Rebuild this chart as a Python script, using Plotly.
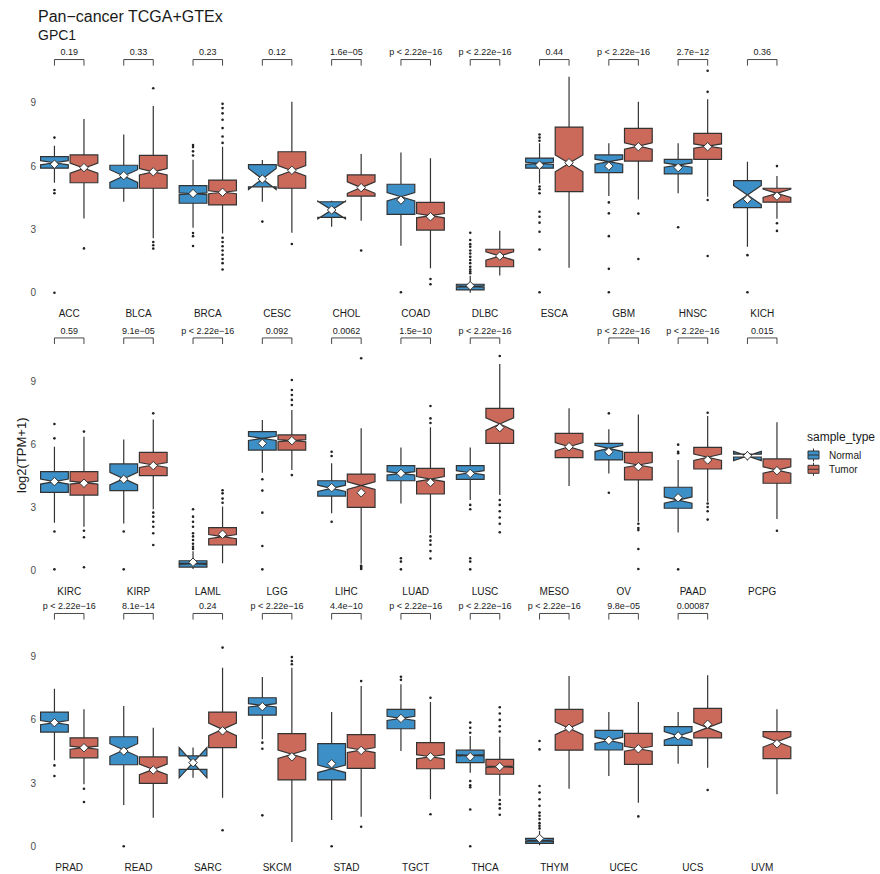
import plotly.graph_objects as go

# ---- data -------------------------------------------------------------
cancers = [
    "ACC", "BLCA", "BRCA", "CESC", "CHOL", "COAD", "DLBC", "ESCA", "GBM", "HNSC", "KICH",
    "KIRC", "KIRP", "LAML", "LGG", "LIHC", "LUAD", "LUSC", "MESO", "OV", "PAAD", "PCPG",
    "PRAD", "READ", "SARC", "SKCM", "STAD", "TGCT", "THCA", "THYM", "UCEC", "UCS", "UVM",
]

# Normal (GTEx + TCGA normal) box statistics, log2(TPM+1)
normal_q1 = [5.90, 4.95, 4.24, 5.02, 3.57, 3.71, 0.13, 5.90, 5.69, 5.63, 4.03,
             3.70, 3.78, 0.14, 5.71, 3.52, 4.25, 4.32, None, 5.24, 2.94, 5.38,
             5.42, 3.87, 3.65, 6.23, 3.15, 5.58, 3.97, 0.14, 4.57, 4.79, None]
normal_median = [6.16, 5.53, 4.69, 5.39, 3.92, 4.55, 0.29, 6.13, 6.21, 6.05, 4.63,
                 4.21, 4.35, 0.30, 6.27, 3.89, 4.60, 4.63, None, 5.79, 3.33, 5.43,
                 5.87, 4.57, 3.97, 6.69, 3.68, 6.07, 4.32, 0.26, 5.03, 5.24, None]
normal_q3 = [6.45, 6.04, 5.07, 6.07, 4.31, 5.14, 0.40, 6.38, 6.53, 6.32, 5.31,
             4.68, 5.05, 0.44, 6.59, 4.25, 4.97, 4.97, None, 6.03, 3.94, 5.52,
             6.37, 5.20, 4.29, 7.05, 4.87, 6.50, 4.56, 0.38, 5.50, 5.68, None]
normal_low = [5.21, 4.31, 3.08, 4.31, 3.13, 2.23, 0.00, 5.18, 4.58, 4.71, 2.18,
              2.25, 2.22, 0.05, 4.63, 2.70, 3.17, 3.33, None, 4.60, 1.78, 5.30,
              4.08, 1.96, 3.33, 5.08, 1.25, 4.52, 3.49, 0.05, 3.34, 3.92, None]
normal_high = [6.97, 7.50, 6.30, 6.29, 4.36, 6.65, 0.80, 7.08, 7.08, 7.08, 6.21,
               5.87, 6.22, 0.89, 7.14, 5.08, 5.83, 5.83, None, 6.70, 5.24, 5.61,
               7.48, 6.66, 4.57, 8.04, 6.37, 7.69, 5.24, 0.74, 6.37, 6.37, None]
normal_mean = [6.09, 5.55, 4.70, 5.39, 3.92, 4.39, 0.33, 6.05, 6.00, 5.93, 4.43,
               4.21, 4.32, 0.37, 6.03, 3.92, 4.60, 4.60, None, 5.63, 3.44, 5.44,
               5.87, 4.52, 3.97, 6.63, 3.92, 6.07, 4.25, 0.37, 5.03, 5.24, None]
normal_notch = [0.10, 0.30, 0.04, 0.50, 0.42, 0.20, 0.03, 0.05, 0.12, 0.10, 0.45,
                0.12, 0.30, 0.03, 0.10, 0.15, 0.08, 0.10, None, 0.15, 0.15, 0.22,
                0.10, 0.30, 0.72, 0.08, 0.18, 0.10, 0.03, 0.03, 0.15, 0.20, None]

# Tumor (TCGA) box statistics, log2(TPM+1)
tumor_q1 = [5.21, 4.95, 4.16, 4.95, 4.58, 2.97, 1.23, 4.79, 6.24, 6.32, 4.29,
            3.57, 4.49, 1.19, 5.71, 2.98, 3.62, 6.03, 5.35, 4.29, 4.81, 4.13,
            4.20, 2.99, 4.68, 3.15, 3.70, 3.68, 3.42, 4.56, 3.89, 5.15, 4.16]
tumor_median = [5.90, 5.73, 4.76, 5.78, 4.98, 3.65, 1.74, 6.13, 6.95, 6.95, 4.71,
                4.16, 5.00, 1.59, 6.16, 4.02, 4.33, 6.95, 5.87, 5.00, 5.37, 4.76,
                4.68, 3.65, 5.55, 4.37, 4.57, 4.25, 3.78, 5.60, 4.63, 5.63, 4.96]
tumor_q3 = [6.53, 6.51, 5.34, 6.68, 5.58, 4.28, 2.06, 7.85, 7.79, 7.55, 4.95,
            4.68, 5.60, 2.02, 6.43, 4.57, 4.84, 7.70, 6.51, 5.60, 5.84, 5.29,
            5.15, 4.24, 6.37, 5.35, 5.30, 4.92, 4.13, 6.50, 5.36, 6.55, 5.44]
tumor_low = [3.52, 2.58, 2.81, 2.84, 3.41, 1.16, 0.81, 1.18, 4.42, 4.55, 3.50,
             2.06, 2.89, 0.32, 4.76, 0.30, 1.75, 3.57, 4.00, 2.30, 3.25, 2.43,
             2.94, 1.36, 2.31, 0.20, 1.40, 2.23, 2.40, 2.73, 2.07, 3.73, 2.47]
tumor_high = [8.23, 8.85, 6.92, 9.05, 6.57, 6.37, 2.94, 10.24, 9.05, 9.17, 5.53,
              6.35, 7.17, 3.02, 7.62, 6.75, 6.80, 9.81, 7.70, 7.41, 7.33, 7.03,
              6.50, 5.63, 8.48, 8.48, 7.61, 6.85, 5.20, 8.08, 6.85, 8.12, 6.50]
tumor_mean = [5.93, 5.73, 4.76, 5.80, 4.98, 3.60, 1.74, 6.16, 6.92, 6.92, 4.58,
              4.13, 4.97, 1.70, 6.16, 3.68, 4.17, 6.78, 5.87, 4.92, 5.24, 4.73,
              4.68, 3.62, 5.48, 4.25, 4.55, 4.25, 3.78, 5.60, 4.63, 5.79, 4.87]
tumor_notch = [0.24, 0.15, 0.07, 0.25, 0.27, 0.10, 0.20, 0.40, 0.15, 0.10, 0.20,
               0.07, 0.12, 0.10, 0.05, 0.18, 0.12, 0.30, 0.20, 0.12, 0.15, 0.15,
               0.07, 0.25, 0.30, 0.20, 0.12, 0.10, 0.03, 0.30, 0.12, 0.25, 0.25]

normal_outliers = {
    "ACC": [7.35, 4.87, 4.71, 0.0],
    "BRCA": [6.5, 6.7, 6.9, 7.0, 2.83, 2.68, 2.21],
    "CESC": [3.37],
    "COAD": [0.02],
    "DLBC": [0.92, 1.0, 1.1, 1.23, 1.4, 1.55, 1.7, 1.86, 2.0, 2.18, 2.3, 2.5, 2.84],
    "ESCA": [7.2, 7.35, 7.5, 5.03, 4.9, 4.71, 3.84, 3.6, 3.32, 2.89, 2.05, 0.02],
    "GBM": [4.28, 3.76, 2.68, 1.13, 0.02],
    "HNSC": [3.1],
    "KICH": [1.78, 0.02],
    "KIRC": [6.95, 6.27, 1.83, 0.03],
    "KIRP": [1.83, 0.03],
    "LAML": [1.0, 1.11, 1.25, 1.43, 1.6, 1.75, 2.06, 2.3, 2.54, 2.89],
    "LGG": [4.32, 3.78, 2.73, 1.14, 0.03],
    "LIHC": [5.63, 5.43, 2.3],
    "LUAD": [0.56, 0.4, 0.03],
    "LUSC": [3.1, 2.89, 0.56, 0.4, 0.03],
    "OV": [7.46, 3.68],
    "PAAD": [5.97, 5.63, 5.56, 0.03],
    "PRAD": [3.84, 3.34],
    "READ": [0.0],
    "SKCM": [4.92, 4.63, 1.47],
    "STAD": [0.0],
    "TGCT": [8.05, 7.9],
    "THCA": [5.87, 5.63, 5.39, 3.1, 2.9, 2.8, 1.75, 0.0],
    "THYM": [0.85, 0.97, 1.1, 1.29, 1.45, 1.6, 1.92, 2.23, 2.55, 2.86, 4.6, 5.0],
}
tumor_outliers = {
    "ACC": [2.1],
    "BLCA": [9.69, 2.4, 2.25, 2.09],
    "BRCA": [7.1, 7.4, 7.8, 8.2, 8.5, 8.75, 8.95, 2.6, 2.4, 2.2, 2.0, 1.8, 1.6, 1.4, 1.1],
    "CESC": [2.31],
    "CHOL": [2.0],
    "COAD": [0.65, 0.4],
    "GBM": [3.75, 1.6],
    "HNSC": [9.52, 10.52, 4.39, 1.74],
    "KICH": [6.0, 3.29, 2.93],
    "KIRC": [6.59, 1.87, 1.56, 0.13],
    "KIRP": [7.46, 2.73, 2.54, 2.3, 2.06, 1.75, 1.19],
    "LAML": [3.2, 3.4, 3.65, 3.8],
    "LGG": [9.05, 8.57, 8.33, 8.1, 7.86, 4.52],
    "LIHC": [10.08, 0.2, 0.15, 0.1, 0.05],
    "LUAD": [7.81, 7.22, 7.0, 1.6, 1.4, 1.2, 0.9, 0.55],
    "LUSC": [10.19, 3.33, 3.1, 2.8, 2.5, 2.2, 1.8],
    "OV": [2.2, 2.0, 1.9, 1.0, 0.05],
    "PAAD": [7.49, 3.17, 3.0, 2.8, 2.4],
    "PCPG": [1.87],
    "PRAD": [2.73, 2.1],
    "SARC": [9.43, 0.76],
    "SKCM": [8.98, 8.79, 8.64],
    "STAD": [7.84, 0.93],
    "TGCT": [7.05, 1.52],
    "THCA": [6.6, 6.3, 6.0, 5.7, 5.45, 2.2, 2.0, 1.8, 1.5],
    "UCEC": [1.42],
    "UCS": [2.67],
}

# Wilcoxon test labels (None where only tumor samples exist)
p_labels = [
    "0.19", "0.33", "0.23", "0.12", "1.6e\u221205", "p < 2.22e\u221216", "p < 2.22e\u221216",
    "0.44", "p < 2.22e\u221216", "2.7e\u221212", "0.36",
    "0.59", "9.1e\u221205", "p < 2.22e\u221216", "0.092", "0.0062", "1.5e\u221210",
    "p < 2.22e\u221216", None, "p < 2.22e\u221216", "p < 2.22e\u221216", "0.015",
    "p < 2.22e\u221216", "8.1e\u221214", "0.24", "p < 2.22e\u221216", "4.4e\u221210",
    "p < 2.22e\u221216", "p < 2.22e\u221216", "p < 2.22e\u221216", "9.8e\u221205", "0.00087", None,
]

y_ticks = [0, 3, 6, 9]
legend_groups = ["Normal", "Tumor"]

# ---- styling / layout helpers -----------------------------------------
W, H = 880, 874
PER_ROW = 11
DODGE = 0.213
BOX_W = 0.4
NORMAL_COL = "#3D8FC7"
TUMOR_COL = "#CB6A5B"
EDGE_COL = "#333333"
FONT = "Liberation Sans, Arial, sans-serif"
Y_RANGE = [-0.5, 11.9]
BRACKET_Y, BRACKET_TIP, LABEL_Y = 11.05, 10.76, 11.36

# pixel position of value 0 and pixels per unit, for each facet row
row_zero_px = [292.7, 570.0, 846.3]
row_scale_px = [21.1, 21.0, 21.07]
x_left_px, x_right_px = 37.0, 804.0
cat0_px, cat_step_px = 69.2, 69.3
x_range = [(x_left_px - cat0_px) / cat_step_px, (x_right_px - cat0_px) / cat_step_px]

fig = go.Figure()


def axis_suffix(r):
    return "" if r == 0 else str(r + 1)


groups = [
    ("Normal", -DODGE, NORMAL_COL, normal_q1, normal_median, normal_q3,
     normal_low, normal_high, normal_mean, normal_notch, normal_outliers),
    ("Tumor", DODGE, TUMOR_COL, tumor_q1, tumor_median, tumor_q3,
     tumor_low, tumor_high, tumor_mean, tumor_notch, tumor_outliers),
]

for r in range(3):
    xa, ya = "x" + axis_suffix(r), "y" + axis_suffix(r)
    idx = range(r * PER_ROW, (r + 1) * PER_ROW)
    for (name, off, col, q1, med, q3, lo, hi, mu, nt, outl) in groups:
        keep = [i for i in idx if q1[i] is not None]
        pos = [(i % PER_ROW) + off for i in keep]
        fig.add_trace(go.Box(
            x=pos,
            q1=[q1[i] for i in keep], median=[med[i] for i in keep],
            q3=[q3[i] for i in keep], lowerfence=[lo[i] for i in keep],
            upperfence=[hi[i] for i in keep], notchspan=[nt[i] for i in keep],
            notched=True, notchwidth=0.5, width=BOX_W, whiskerwidth=0,
            boxpoints=False, fillcolor=col,
            line=dict(color=EDGE_COL, width=1.2),
            name=name, showlegend=False,
            hoverinfo="skip", xaxis=xa, yaxis=ya,
        ))
        # outlying samples
        ox, oy = [], []
        for i in keep:
            for v in outl.get(cancers[i], []):
                ox.append((i % PER_ROW) + off)
                oy.append(v)
        fig.add_trace(go.Scatter(
            x=ox, y=oy, mode="markers",
            marker=dict(size=2.6, color="#222222"),
            showlegend=False, hoverinfo="skip", xaxis=xa, yaxis=ya,
        ))
        # group means
        fig.add_trace(go.Scatter(
            x=pos, y=[mu[i] for i in keep], mode="markers",
            marker=dict(symbol="diamond", size=6.5, color="white",
                        line=dict(color=EDGE_COL, width=1)),
            showlegend=False, hoverinfo="skip", xaxis=xa, yaxis=ya,
        ))

    # significance brackets and labels
    bx, by, tx, ty, tt = [], [], [], [], []
    for i in idx:
        if p_labels[i] is None:
            continue
        c = i % PER_ROW
        bx += [c - DODGE, c - DODGE, c + DODGE, c + DODGE, None]
        by += [BRACKET_TIP, BRACKET_Y, BRACKET_Y, BRACKET_TIP, None]
        tx.append(c)
        ty.append(LABEL_Y)
        tt.append(p_labels[i])
    fig.add_trace(go.Scatter(
        x=bx, y=by, mode="lines", line=dict(color="#333333", width=0.9),
        showlegend=False, hoverinfo="skip", xaxis=xa, yaxis=ya,
    ))
    fig.add_trace(go.Scatter(
        x=tx, y=ty, text=tt, mode="text", textposition="middle center",
        textfont=dict(size=9, color="#1A1A1A", family=FONT),
        showlegend=False, hoverinfo="skip", xaxis=xa, yaxis=ya,
    ))

    # axes for this facet row
    top_px = row_zero_px[r] - Y_RANGE[1] * row_scale_px[r]
    bot_px = row_zero_px[r] - Y_RANGE[0] * row_scale_px[r]
    fig.update_layout(**{
        "xaxis" + axis_suffix(r): dict(
            domain=[x_left_px / W, x_right_px / W], range=x_range,
            tickmode="array", tickvals=list(range(PER_ROW)),
            ticktext=cancers[r * PER_ROW:(r + 1) * PER_ROW],
            showgrid=False, zeroline=False, showline=False, ticks="",
            ticklabelstandoff=3,
            tickfont=dict(size=10, color="#1A1A1A"), anchor=ya,
        ),
        "yaxis" + axis_suffix(r): dict(
            domain=[1 - bot_px / H, 1 - top_px / H], range=Y_RANGE,
            tickmode="array", tickvals=y_ticks,
            showgrid=False, zeroline=False, showline=False, ticks="",
            tickfont=dict(size=10, color="#4D4D4D"), anchor=xa,
        ),
    })

# ---- legend: small boxplot keys drawn in paper space ------------------
def px(x):
    return x / W


def py(y):
    return 1 - y / H


shapes = []
annotations = [
    dict(text="Pan\u2212cancer TCGA+GTEx", x=px(36), y=py(16),
         xanchor="left", yanchor="middle", font=dict(size=16)),
    dict(text="GPC1", x=px(36), y=py(35),
         xanchor="left", yanchor="middle", font=dict(size=14)),
    dict(text="log2(TPM+1)", x=px(21), y=py(455), textangle=-90,
         xanchor="center", yanchor="middle", font=dict(size=13)),
    dict(text="sample_type", x=px(805), y=py(437),
         xanchor="left", yanchor="middle", font=dict(size=12)),
]
key_cols = [NORMAL_COL, TUMOR_COL]
for k, (lab, col) in enumerate(zip(legend_groups, key_cols)):
    cy = 455 + 14.3 * k
    kx0, kx1 = 808, 819
    shapes.append(dict(type="line", x0=px((kx0 + kx1) / 2), x1=px((kx0 + kx1) / 2),
                       y0=py(cy - 6.5), y1=py(cy + 6.5),
                       line=dict(color=EDGE_COL, width=1)))
    shapes.append(dict(type="rect", x0=px(kx0), x1=px(kx1),
                       y0=py(cy - 4), y1=py(cy + 4), fillcolor=col,
                       line=dict(color=EDGE_COL, width=1)))
    shapes.append(dict(type="line", x0=px(kx0), x1=px(kx1), y0=py(cy), y1=py(cy),
                       line=dict(color=EDGE_COL, width=1)))
    annotations.append(dict(text=lab, x=px(827), y=py(cy),
                            xanchor="left", yanchor="middle", font=dict(size=10)))

for a in annotations:
    a.update(xref="paper", yref="paper", showarrow=False)
for s in shapes:
    s.update(xref="paper", yref="paper")

fig.update_layout(
    width=W, height=H,
    margin=dict(l=0, r=0, t=0, b=0),
    paper_bgcolor="white", plot_bgcolor="white",
    font=dict(family=FONT, color="#1A1A1A"),
    boxmode="overlay",
    showlegend=False,
    shapes=shapes,
    annotations=annotations,
)

fig.write_html("out.html")
